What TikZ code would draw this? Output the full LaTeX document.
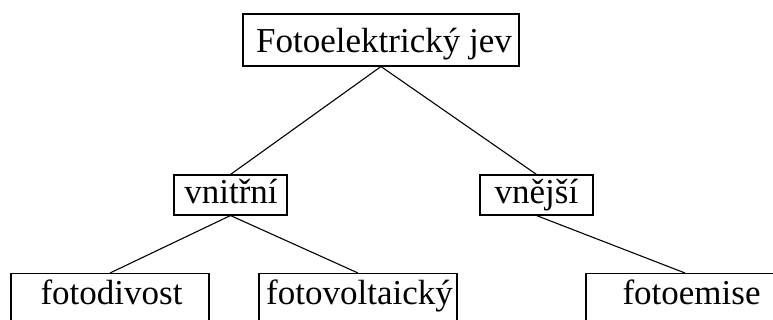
\documentclass[tikz,border=0pt]{standalone}
\usepackage{fontspec}
\setmainfont{Liberation Serif}
\begin{document}
\begin{tikzpicture}[x=1pt,y=1pt,
  box/.style={draw=black, line width=1.1pt, rectangle, inner sep=0pt},
  lbl/.style={anchor=base, inner sep=0pt, font=\fontsize{35}{42}\selectfont},
  link/.style={draw=black, line width=1.1pt}]
\useasboundingbox (0,0) rectangle (773,320);
\clip (0,0) rectangle (773,320);

% root
\node[box, minimum width=276, minimum height=52] (root) at (381,280) {};
\node[lbl] (rootT) at (384,267) {Fotoelektrický jev};

% second level
\node[box, minimum width=113, minimum height=40] (inner) at (230.5,125) {};
\node[lbl] (innerT) at (231,116) {vnitřní};
\node[box, minimum width=113, minimum height=40] (outer) at (536.5,125) {};
\node[lbl] (outerT) at (536.5,116) {vnější};

% leaves (they run past the lower edge)
\node[box, anchor=north, minimum width=198, minimum height=60] (cond) at (110,47) {};
\node[lbl] (condT) at (111.5,15) {fotodivost};
\node[box, anchor=north, minimum width=198, minimum height=60] (volt) at (358,47) {};
\node[lbl] (voltT) at (359.5,15) {fotovoltaický};
\node[box, anchor=north, minimum width=198, minimum height=60] (emis) at (685,47) {};
\node[lbl] (emisT) at (691.5,15) {fotoemise};

% connectors
\draw[link] (root.south) -- (inner.north);
\draw[link] (root.south) -- (outer.north);
\draw[link] (inner.south) -- (cond.north);
\draw[link] (inner.south) -- (volt.north);
\draw[link] (outer.south) -- (emis.north);
\end{tikzpicture}
\end{document}
